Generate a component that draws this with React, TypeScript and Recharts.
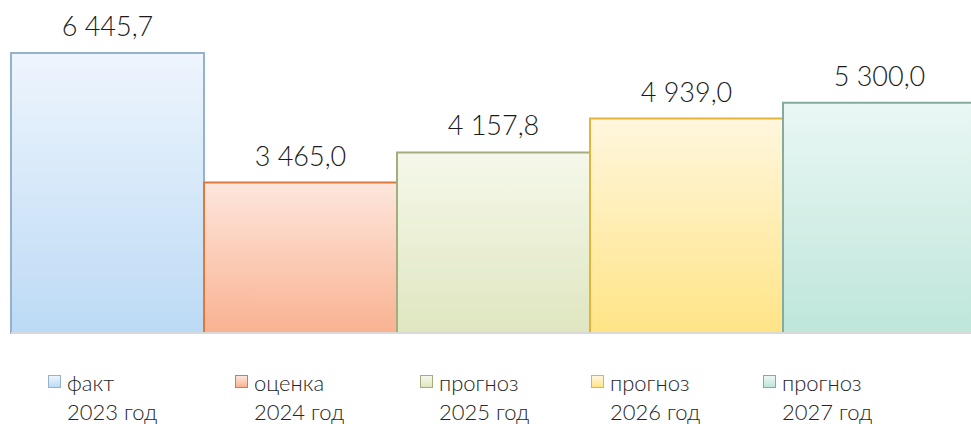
import React from "react";
import { BarChart, Bar, XAxis, YAxis, LabelList, Legend } from "recharts";

// one category, five series side by side
const seriesKeys = ["f2023", "e2024", "p2025", "p2026", "p2027"];
const seriesValues = [6445.7, 3465.0, 4157.8, 4939.0, 5300.0];
const legendFirstLine = ["факт", "оценка", "прогноз", "прогноз", "прогноз"];
const legendSecondLine = ["2023 год", "2024 год", "2025 год", "2026 год", "2027 год"];

const data = [
  seriesKeys.reduce((row: Record<string, number | string>, key, i) => {
    row[key] = seriesValues[i];
    return row;
  }, { name: "" }),
];

const palette = [
  { top: "#eef5fd", bottom: "#bcdaf5", stroke: "#94b1cf" },
  { top: "#fde6dc", bottom: "#f9b291", stroke: "#e0783d" },
  { top: "#f5f8ea", bottom: "#dfe6c0", stroke: "#a2ae7d" },
  { top: "#fff7de", bottom: "#ffe486", stroke: "#e6b339" },
  { top: "#eaf7f4", bottom: "#bee6da", stroke: "#85aba0" },
];

// legend wrapper already sits 11px in (chart left margin)
const legendLeft = [37, 224, 409, 580, 752];

const FONT = "Lato, 'Noto Sans', sans-serif";

function fmt(v: number) {
  const [int, dec] = v.toFixed(1).split(".");
  return int.replace(/\B(?=(\d{3})+(?!\d))/g, " ") + "," + dec;
}

function LegendBox() {
  return (
    <div style={{ position: "relative", width: 960, height: 90, fontFamily: FONT }}>
      {seriesKeys.map((k, i) => (
        <div key={k} style={{ position: "absolute", left: legendLeft[i], top: 0 }}>
          <div
            style={{
              position: "absolute",
              left: 0,
              top: 41,
              width: 11,
              height: 11,
              border: `1.5px solid ${palette[i].stroke}`,
              background: `linear-gradient(${palette[i].top}, ${palette[i].bottom})`,
            }}
          />
          <div
            style={{
              position: "absolute",
              left: 19,
              top: 34,
              fontSize: 22,
              fontWeight: 300,
              lineHeight: "29px",
              color: "#262626",
              whiteSpace: "nowrap",
            }}
          >
            {legendFirstLine[i]}
            <br />
            {legendSecondLine[i]}
          </div>
        </div>
      ))}
    </div>
  );
}

export default function App() {
  return (
    <div style={{ position: "absolute", left: 0, top: 0, width: 971, height: 424, overflow: "hidden", background: "#fff" }}>
      <BarChart
        width={980}
        height={424}
        data={data}
        margin={{ top: 29, right: 4, bottom: 0, left: 11 }}
        barCategoryGap={0}
        barGap={0}
      >
        <defs>
          {palette.map((p, i) => (
            <linearGradient key={i} id={`grad${i}`} x1="0" y1="0" x2="0" y2="1">
              <stop offset="0%" stopColor={p.top} />
              <stop offset="100%" stopColor={p.bottom} />
            </linearGradient>
          ))}
        </defs>
        <XAxis dataKey="name" tick={false} tickLine={false} height={1} axisLine={{ stroke: "#d9d9d9", strokeWidth: 2 }} />
        <YAxis hide domain={[0, 7000]} />
        <Legend verticalAlign="bottom" height={90} content={() => <LegendBox />} />
        {seriesKeys.map((k, i) => (
          <Bar
            key={k}
            dataKey={k}
            fill={`url(#grad${i})`}
            stroke={palette[i].stroke}
            strokeWidth={2}
            isAnimationActive={false}
          >
            <LabelList
              dataKey={k}
              position="top"
              offset={17}
              formatter={(v: any) => fmt(Number(v))}
              style={{ fontFamily: FONT, fontSize: 27, fontWeight: 300, fill: "#1a1a1a" }}
            />
          </Bar>
        ))}
      </BarChart>
    </div>
  );
}
